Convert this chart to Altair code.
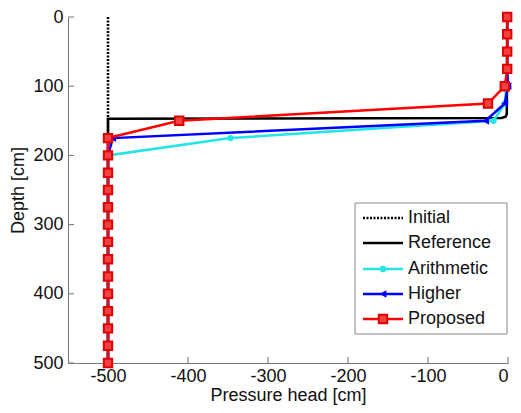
import altair as alt
import pandas as pd

# ---- data ----
depths = [0, 25, 50, 75, 100, 125, 150, 175, 200, 225, 250, 275, 300,
          325, 350, 375, 400, 425, 450, 475, 500]
initial_depth = [0, 500]
initial_p = [-500, -500]
ref_depth = [0, 140, 144, 146, 147, 500]
ref_p = [-1, -1.5, -3, -8, -500, -500]
arith_p = [-1, -1, -1, -1, -2, -4, -18, -347] + [-500] * 13
higher_p = [-1, -1, -1, -1, 0, -4, -28, -494] + [-500] * 13
proposed_p = [-1, -1, -1, -1, -4, -25, -411, -500] + [-500] * 13

series = ["Initial", "Reference", "Arithmetic", "Higher", "Proposed"]
colors = ["black", "black", "#22e5e5", "#0000ff", "#ff0000"]
xticks = [-500, -400, -300, -200, -100, 0]
yticks = [0, 100, 200, 300, 400, 500]

FONT = "Liberation Sans"
W, H = 440, 346


def frame(name, d, p):
    return pd.DataFrame({"series": name, "depth": d, "pressure": p,
                         "idx": list(range(len(d)))})


x_enc = alt.X("pressure:Q",
              scale=alt.Scale(domain=[-550, 0], nice=False, zero=False),
              axis=alt.Axis(values=xticks, title="Pressure head [cm]",
                            labelExpr="'' + datum.value",
                            labelPadding=4, titleY=37, titleBaseline="alphabetic"))
y_enc = alt.Y("depth:Q",
              scale=alt.Scale(domain=[0, 500], reverse=True, nice=False, zero=False),
              axis=alt.Axis(values=yticks, title="Depth [cm]",
                            labelPadding=5, titlePadding=5))

layers = []
# inward tick marks
layers.append(alt.Chart(pd.DataFrame({"pressure": xticks})).mark_rule(
    color="#777", strokeWidth=1).encode(x=x_enc, y=alt.value(H), y2=alt.value(H - 6)))
layers.append(alt.Chart(pd.DataFrame({"depth": yticks})).mark_rule(
    color="#777", strokeWidth=1).encode(y=y_enc, x=alt.value(0), x2=alt.value(6)))

# series
layers.append(alt.Chart(frame("Initial", initial_depth, initial_p)).mark_line(
    color="black", strokeWidth=2.5, strokeDash=[2, 1.5]).encode(x=x_enc, y=y_enc, order="idx:Q"))
layers.append(alt.Chart(frame("Reference", ref_depth, ref_p)).mark_line(
    color="black", strokeWidth=2.5).encode(x=x_enc, y=y_enc, order="idx:Q"))
layers.append(alt.Chart(frame("Arithmetic", depths, arith_p)).mark_line(
    color=colors[2], strokeWidth=2.5,
    point=alt.OverlayMarkDef(shape="circle", filled=True, size=40, color=colors[2])
).encode(x=x_enc, y=y_enc, order="idx:Q"))
layers.append(alt.Chart(frame("Higher", depths, higher_p)).mark_line(
    color=colors[3], strokeWidth=2.5,
    point=alt.OverlayMarkDef(shape="triangle-left", filled=True, size=60, color=colors[3])
).encode(x=x_enc, y=y_enc, order="idx:Q"))
layers.append(alt.Chart(frame("Proposed", depths, proposed_p)).mark_line(
    color=colors[4], strokeWidth=2.5,
    point=alt.OverlayMarkDef(shape="square", filled=True, size=70, fill="#f04040",
                             stroke="#e00000", strokeWidth=2)
).encode(x=x_enc, y=y_enc, order="idx:Q"))

# custom legend
one = pd.DataFrame({"a": [0]})
layers.append(alt.Chart(one).mark_rect(fill="white", stroke="#888", strokeWidth=1).encode(
    x=alt.value(287), x2=alt.value(439), y=alt.value(186), y2=alt.value(317)))
ly = [201, 226, 252, 277, 302]
for i, name in enumerate(series):
    yy = ly[i]
    rule_kw = dict(color=colors[i], strokeWidth=2.5)
    if name == "Initial":
        rule_kw["strokeDash"] = [2, 1.5]
    layers.append(alt.Chart(one).mark_rule(**rule_kw).encode(
        x=alt.value(295), x2=alt.value(335), y=alt.value(yy)))
    if name == "Arithmetic":
        layers.append(alt.Chart(one).mark_point(shape="circle", filled=True, size=40,
                                                color=colors[i], opacity=1).encode(
            x=alt.value(315), y=alt.value(yy)))
    elif name == "Higher":
        layers.append(alt.Chart(one).mark_point(shape="triangle-left", filled=True, size=60,
                                                color=colors[i], opacity=1).encode(
            x=alt.value(315), y=alt.value(yy)))
    elif name == "Proposed":
        layers.append(alt.Chart(one).mark_point(shape="square", filled=True, size=70,
                                                fill="#f04040", stroke="#e00000",
                                                strokeWidth=2, opacity=1).encode(
            x=alt.value(315), y=alt.value(yy)))
    layers.append(alt.Chart(one).mark_text(text=name, align="left", baseline="middle",
                                           font=FONT, fontSize=18, color="#111").encode(
        x=alt.value(340), y=alt.value(yy)))

chart = alt.layer(*layers).properties(
    width=W, height=H, autosize="none",
    padding={"left": 60, "top": 9, "right": 5, "bottom": 42},
).configure_view(stroke=None).configure_axis(
    grid=False, ticks=False, tickSize=0, domainColor="#777", domainWidth=1,
    labelFont=FONT, labelFontSize=18, labelColor="#111",
    titleFont=FONT, titleFontSize=18, titleFontWeight="normal", titleColor="#111",
)

chart.save("out.html", embed_options={"renderer": "svg", "actions": False})
